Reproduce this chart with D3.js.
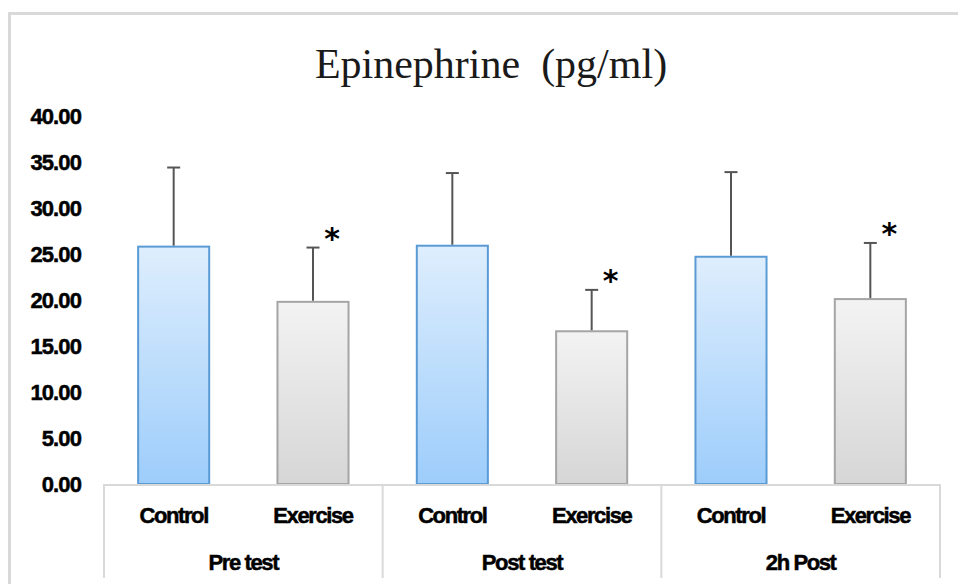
<!DOCTYPE html>
<html>
<head>
<meta charset="utf-8">
<script src="https://cdn.jsdelivr.net/npm/d3@7"></script>
<style>
  body { margin: 0; background: #fff; }
</style>
</head>
<body>
<div id="chart"></div>
<script>
// datos
const groups = ["Pre test", "Post test", "2h Post"]
const conditions = ["Control", "Exercise"]
const means = [25.8, 19.8, 25.9, 16.6, 24.7, 20.1]
const sds = [8.6, 5.9, 7.9, 4.5, 9.2, 6.1]
const significant = [false, true, false, true, false, true]
const yTicks = [0, 5, 10, 15, 20, 25, 30, 35, 40]

const width = 958
const height = 584
const plot = { left: 104, right: 940, top: 116, bottom: 484, axisBottom: 578 }

const rows = []
groups.forEach((g, gi) => conditions.forEach((c, ci) => {
    const i = gi * conditions.length + ci
    rows.push({ key: g + "|" + c, group: g, cond: c, mean: means[i], sd: sds[i], sig: significant[i] })
}))

const svg = d3.select("#chart").append("svg").attr("width", width).attr("height", height)

// gradientes
const defs = svg.append("defs")
const grad = (id, top, bottom) => {
    const lg = defs.append("linearGradient").attr("id", id).attr("x1", 0).attr("y1", 0).attr("x2", 0).attr("y2", 1)
    lg.append("stop").attr("offset", "0%").attr("stop-color", top)
    lg.append("stop").attr("offset", "100%").attr("stop-color", bottom)
}
grad("gControl", "#deeefd", "#9dcdfb")
grad("gExercise", "#f3f3f3", "#d6d6d6")

// marco exterior
svg.append("path")
    .attr("d", `M9.5,${height + 5} V13.5 H${width + 5}`)
    .attr("fill", "none").attr("stroke", "#d9d9d9").attr("stroke-width", 3)

// titulo
svg.append("text")
    .attr("x", 491).attr("y", 78)
    .attr("text-anchor", "middle")
    .style("font-family", "'Liberation Serif', 'Times New Roman', serif")
    .style("font-size", "42px")
    .style("white-space", "pre")
    .attr("fill", "#1a1a1a")
    .text("Epinephrine  (pg/ml)")

// escalas
const y = d3.scaleLinear().domain([0, 40]).range([plot.bottom, plot.top])
const x = d3.scaleBand().domain(rows.map(d => d.key)).range([plot.left, plot.right])
    .paddingInner(0.49).paddingOuter(0.245)
const xg = d3.scaleBand().domain(groups).range([plot.left, plot.right])

// eje y (solo etiquetas)
const yAxis = d3.axisLeft(y).tickValues(yTicks).tickFormat(d3.format(".2f")).tickSize(0).tickPadding(0)
const yAxisGroup = svg.append("g").attr("transform", "translate(81,0)").call(yAxis)
yAxisGroup.select(".domain").remove()
yAxisGroup.selectAll("text")
    .attr("fill", "#000")
    .attr("stroke", "#000").attr("stroke-width", 0.5)
    .style("font-family", "'Liberation Sans', Arial, sans-serif")
    .style("font-weight", "bold")
    .style("font-size", "22px")
    .style("letter-spacing", "-0.9px")

// barras
const barColors = { Control: { fill: "url(#gControl)", stroke: "#5b9bd5" }, Exercise: { fill: "url(#gExercise)", stroke: "#a5a5a5" } }

svg.append("g").selectAll("rect").data(rows).join("rect")
    .attr("x", d => x(d.key))
    .attr("y", d => y(d.mean))
    .attr("width", x.bandwidth())
    .attr("height", d => y(0) - y(d.mean))
    .attr("fill", d => barColors[d.cond].fill)
    .attr("stroke", d => barColors[d.cond].stroke)
    .attr("stroke-width", 2)

// barras de error
const err = svg.append("g").attr("stroke", "#555").attr("stroke-width", 2)
err.selectAll("line.v").data(rows).join("line").attr("class", "v")
    .attr("x1", d => x(d.key) + x.bandwidth() / 2).attr("x2", d => x(d.key) + x.bandwidth() / 2)
    .attr("y1", d => y(d.mean) - 1).attr("y2", d => y(d.mean + d.sd))
err.selectAll("line.h").data(rows).join("line").attr("class", "h")
    .attr("x1", d => x(d.key) + x.bandwidth() / 2 - 6.5).attr("x2", d => x(d.key) + x.bandwidth() / 2 + 6.5)
    .attr("y1", d => y(d.mean + d.sd)).attr("y2", d => y(d.mean + d.sd))

// asteriscos
svg.append("g").selectAll("text").data(rows.filter(d => d.sig)).join("text")
    .attr("x", d => x(d.key) + x.bandwidth() / 2 + 19)
    .attr("y", d => y(d.mean + d.sd) + 1)
    .attr("text-anchor", "middle")
    .style("font-family", "'DejaVu Sans', sans-serif")
    .style("font-weight", "bold")
    .style("font-size", "30px")
    .attr("fill", "#000")
    .text("*")

// eje de categorias (dos niveles)
const catAxis = svg.append("g").attr("stroke", "#d9d9d9").attr("stroke-width", 2)
catAxis.append("line").attr("x1", plot.left).attr("x2", plot.right).attr("y1", plot.bottom + 1).attr("y2", plot.bottom + 1)
catAxis.selectAll("line.div").data([...groups.map(g => xg(g)), plot.right]).join("line").attr("class", "div")
    .attr("x1", d => d).attr("x2", d => d)
    .attr("y1", plot.bottom).attr("y2", plot.axisBottom)

const labelStyle = sel => sel
    .attr("text-anchor", "middle")
    .attr("fill", "#000")
    .attr("stroke", "#000").attr("stroke-width", 0.5)
    .style("font-family", "'Liberation Sans', Arial, sans-serif")
    .style("font-weight", "bold")
    .style("font-size", "22px")
    .style("letter-spacing", "-1.4px")

svg.append("g").selectAll("text").data(rows).join("text")
    .attr("x", d => x(d.key) + x.bandwidth() / 2)
    .attr("y", 523)
    .call(labelStyle)
    .text(d => d.cond)

svg.append("g").selectAll("text").data(groups).join("text")
    .attr("x", d => xg(d) + xg.bandwidth() / 2)
    .attr("y", 570)
    .call(labelStyle)
    .text(d => d)
</script>
</body>
</html>
